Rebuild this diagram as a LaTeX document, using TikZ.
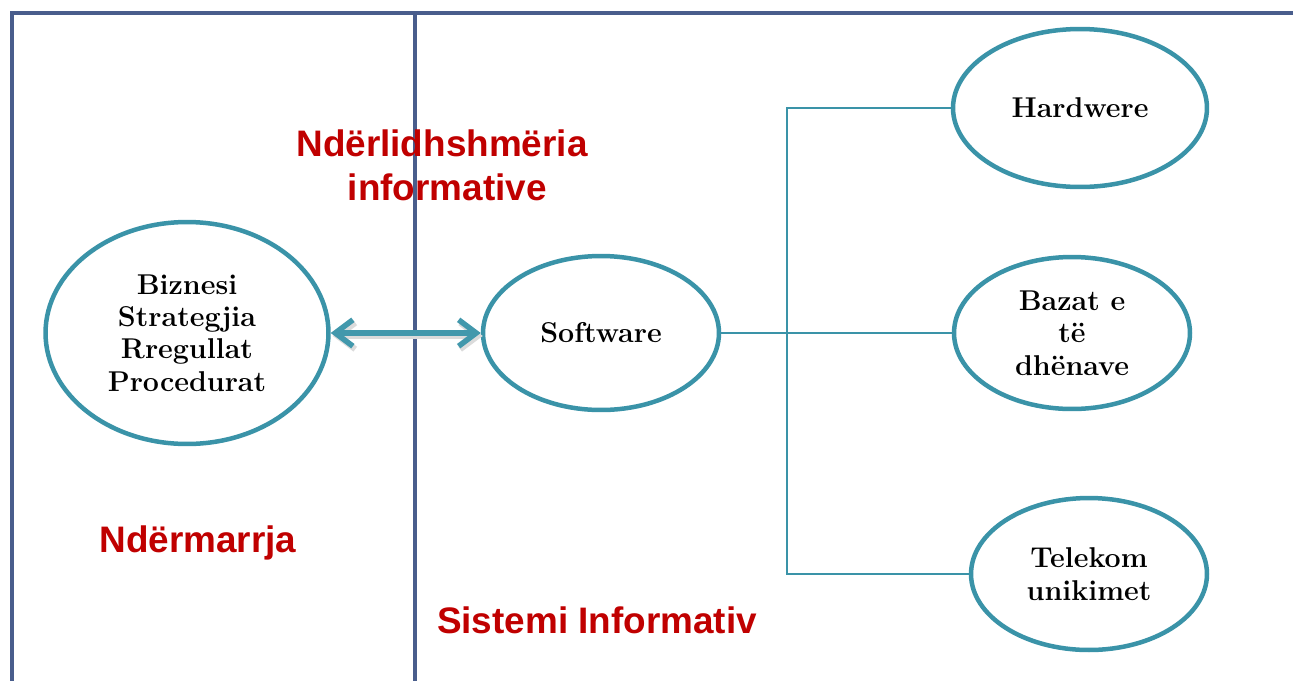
\documentclass[tikz,border=0pt]{standalone}
\usepackage{fontspec}
\newfontfamily\labelfont{Liberation Sans}
\usetikzlibrary{arrows.meta,shapes.geometric}

\definecolor{framecol}{RGB}{73,93,140}
\definecolor{ovalcol}{RGB}{58,147,168}
\definecolor{arrowcol}{RGB}{66,152,172}
\definecolor{titlered}{RGB}{192,0,0}

\begin{document}
\begin{tikzpicture}[x=0.02cm, y=-0.02cm,
    oval/.style={ellipse, draw=ovalcol, fill=white, line width=0.09cm, inner sep=0pt,
                 align=center, font=\bfseries\fontsize{16.3}{18.4}\selectfont},
    title/.style={text=titlered, align=center, font=\labelfont\bfseries\fontsize{21}{25}\selectfont},
    frame/.style={draw=framecol, line width=0.08cm, line join=miter},
    link/.style={draw=ovalcol, line width=0.04cm},
    biarrow/.style={draw=arrowcol, line width=0.11cm,
                    {Straight Barb[length=10pt,width=15pt]}-{Straight Barb[length=10pt,width=15pt]},
                    preaction={draw=black!14, line width=0.12cm, transform canvas={shift={(0.04cm,-0.06cm)}}}}]
    \useasboundingbox (0,0) rectangle (1293,680);

    % Frame
    \draw [frame] (12,690) -- (12,13) -- (1300,13);
    \draw [frame] (415,13) -- (415,690);

    % Nodes {biz, sw, hw, bd, tk}
    \node [oval, minimum width=5.66cm, minimum height=4.44cm] (biz) at (187,333)  {Biznesi\\Strategjia\\Rregullat\\Procedurat};
    \node [oval, minimum width=4.72cm, minimum height=3.08cm] (sw)  at (601,333)  {Software};
    \node [oval, minimum width=5.08cm, minimum height=3.16cm] (hw)  at (1080,108) {Hardwere};
    \node [oval, minimum width=4.72cm, minimum height=3.04cm] (bd)  at (1072,333) {Bazat e\\të\\dhënave};
    \node [oval, minimum width=4.72cm, minimum height=3.04cm] (tk)  at (1089,574) {Telekom\\unikimet};
    \coordinate (bus) at (787,333);

    % Labels
    \node [title] (ndl) at (442,165) {Ndërlidhshmëria\\\hspace*{6pt}informative};
    \node [title] (ndm) at (198,543) {Ndërmarrja};
    \node [title] (sis) at (597,620) {Sistemi Informativ};

    % Paths
    \path [biarrow] (biz) -- (sw);
    \path [link]    (sw.east) -- (bd.west);
    \path [link]    (hw.west) -| (bus) |- (tk.west);

\end{tikzpicture}
\end{document}
